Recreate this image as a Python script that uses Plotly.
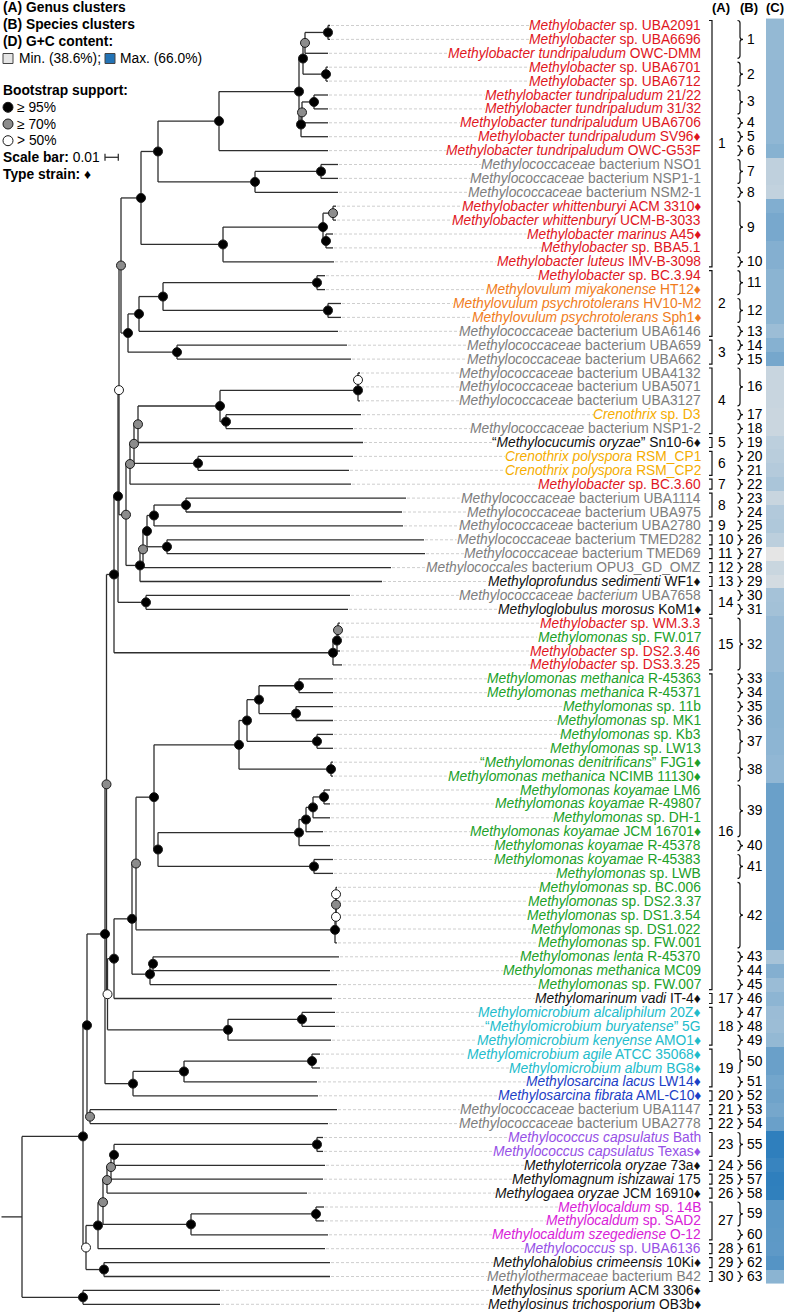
import plotly.graph_objects as go

# ------------------------------------------------------------------ data
LEAF_TAXON = [
    "Methylobacter", "Methylobacter", "Methylobacter tundripaludum", "Methylobacter", "Methylobacter",
    "Methylobacter tundripaludum", "Methylobacter tundripaludum", "Methylobacter tundripaludum",
    "Methylobacter tundripaludum", "Methylobacter tundripaludum",
    "Methylococcaceae", "Methylococcaceae", "Methylococcaceae",
    "Methylobacter whittenburyi", "Methylobacter whittenburyi", "Methylobacter marinus", "Methylobacter",
    "Methylobacter luteus", "Methylobacter", "Methylovulum miyakonense", "Methylovulum psychrotolerans",
    "Methylovulum psychrotolerans", "Methylococcaceae", "Methylococcaceae", "Methylococcaceae",
    "Methylococcaceae", "Methylococcaceae", "Methylococcaceae", "Crenothrix", "Methylococcaceae",
    "\u201cMethylocucumis oryzae\u201d", "Crenothrix polyspora", "Crenothrix polyspora", "Methylobacter",
    "Methylococcaceae", "Methylococcaceae", "Methylococcaceae", "Methylococcaceae", "Methylococcaceae",
    "Methylococcales", "Methyloprofundus sedimenti", "Methylococcaceae bacterium", "Methyloglobulus morosus",
    "Methylobacter", "Methylomonas", "Methylobacter", "Methylobacter",
    "Methylomonas methanica", "Methylomonas methanica", "Methylomonas", "Methylomonas", "Methylomonas",
    "Methylomonas", "\u201cMethylomonas denitrificans\u201d", "Methylomonas methanica",
    "Methylomonas koyamae", "Methylomonas koyamae", "Methylomonas", "Methylomonas koyamae",
    "Methylomonas koyamae", "Methylomonas koyamae", "Methylomonas", "Methylomonas", "Methylomonas",
    "Methylomonas", "Methylomonas", "Methylomonas", "Methylomonas lenta", "Methylomonas methanica",
    "Methylomonas", "Methylomarinum vadi", "Methylomicrobium alcaliphilum",
    "\u201cMethylomicrobium buryatense\u201d", "Methylomicrobium kenyense", "Methylomicrobium agile",
    "Methylomicrobium album", "Methylosarcina lacus", "Methylosarcina fibrata", "Methylococcaceae",
    "Methylococcaceae", "Methylococcus capsulatus", "Methylococcus capsulatus", "Methyloterricola oryzae",
    "Methylomagnum ishizawai", "Methylogaea oryzae", "Methylocaldum", "Methylocaldum",
    "Methylocaldum szegediense", "Methylococcus", "Methylohalobius crimeensis", "Methylothermaceae",
    "Methylosinus sporium", "Methylosinus trichosporium",
]
LEAF_STRAIN = [
    "sp. UBA2091", "sp. UBA6696", "OWC-DMM", "sp. UBA6701", "sp. UBA6712", "21/22", "31/32", "UBA6706",
    "SV96", "OWC-G53F", "bacterium NSO1", "bacterium NSP1-1", "bacterium NSM2-1", "ACM 3310",
    "UCM-B-3033", "A45", "sp. BBA5.1", "IMV-B-3098", "sp. BC.3.94", "HT12", "HV10-M2", "Sph1",
    "bacterium UBA6146", "bacterium UBA659", "bacterium UBA662", "bacterium UBA4132", "bacterium UBA5071",
    "bacterium UBA3127", "sp. D3", "bacterium NSP1-2", "Sn10-6", "RSM_CP1", "RSM_CP2", "sp. BC.3.60",
    "bacterium UBA1114", "bacterium UBA975", "bacterium UBA2780", "bacterium TMED282", "bacterium TMED69",
    "bacterium OPU3_GD_OMZ", "WF1", "UBA7658", "KoM1", "sp. WM.3.3", "sp. FW.017", "sp. DS2.3.46",
    "sp. DS3.3.25", "R-45363", "R-45371", "sp. 11b", "sp. MK1", "sp. Kb3", "sp. LW13", "FJG1",
    "NCIMB 11130", "LM6", "R-49807", "sp. DH-1", "JCM 16701", "R-45378", "R-45383", "sp. LWB",
    "sp. BC.006", "sp. DS2.3.37", "sp. DS1.3.54", "sp. DS1.022", "sp. FW.001", "R-45370", "MC09",
    "sp. FW.007", "IT-4", "20Z", "5G", "AMO1", "ATCC 35068", "BG8", "LW14", "AML-C10",
    "bacterium UBA1147", "bacterium UBA2778", "Bath", "Texas", "73a", "175", "JCM 16910", "sp. 14B",
    "sp. SAD2", "O-12", "sp. UBA6136", "10Ki", "bacterium B42", "ACM 3306", "OB3b",
]
LEAF_GROUP = (["Methylobacter"] * 10 + ["other"] * 3 + ["Methylobacter"] * 6 + ["Methylovulum"] * 3
              + ["other"] * 6 + ["Crenothrix"] + ["other"] + ["described"] + ["Crenothrix"] * 2
              + ["Methylobacter"] + ["other"] * 6 + ["described"] + ["other"] + ["described"]
              + ["Methylobacter"] + ["Methylomonas"] + ["Methylobacter"] * 2 + ["Methylomonas"] * 23
              + ["described"] + ["Methylomicrobium"] * 5 + ["Methylosarcina"] * 2 + ["other"] * 2
              + ["Methylococcus"] * 2 + ["described"] * 3 + ["Methylocaldum"] * 3 + ["Methylococcus"]
              + ["described"] + ["other"] + ["described"] * 2)
GROUP_COLOR = {
    "Methylobacter": "#e0161e", "Methylovulum": "#f07c1c", "other": "#7d7d7d",
    "Crenothrix": "#f5ad00", "described": "#111111", "Methylomonas": "#20a028",
    "Methylomicrobium": "#22bccb", "Methylosarcina": "#1c40c6", "Methylococcus": "#9650e6",
    "Methylocaldum": "#d822d8",
}
TYPE_STRAIN = [9, 14, 16, 20, 22, 31, 41, 43, 54, 55, 59, 71, 72, 74, 75, 76, 77, 78, 82, 83, 85, 90, 92, 93]

# tip depth of each leaf (tree units; SCALE_BAR_UNITS units = 0.01 substitutions/site)
LEAF_DEPTH = [
    308, 308, 306, 306, 306, 306, 306, 306, 306, 306,
    316, 316, 316, 314, 314, 311, 311, 312, 303, 303,
    319, 319, 316, 325, 329, 338, 338, 338, 339, 331,
    341, 331, 327, 329, 384, 380, 381, 402, 403, 369,
    360, 328, 326, 318, 318, 318, 320, 311, 311, 311,
    311, 311, 311, 311, 311, 308, 308, 308, 301, 308,
    311, 311, 315, 315, 315, 315, 315, 317, 308, 315,
    310, 313, 313, 309, 298, 298, 295, 296, 315, 306,
    301, 301, 303, 301, 285, 302, 302, 306, 303, 308,
    308, 198, 198,
]
# internal nodes: name, child A, child B, depth, bootstrap class (B >=95, G >=70, W >50)
NODE_NAME = ["n1_2", "n1_3", "n4_5", "n1_5", "n6_7", "n6_8", "n6_9", "n1_9", "n1_10", "n11_12",
             "n11_13", "n1_13", "n14_15", "n16_17", "n14_17", "n14_18", "n1_18", "n19_20", "n21_22",
             "n19_22", "n19_23", "n24_25", "n19_25", "n1_25", "n26_27", "n26_28", "n29_30", "n26_30",
             "n26_31", "n32_33", "n26_33", "n26_34", "n35_36", "n35_37", "n38_39", "n35_39", "n35_40",
             "n35_41", "n26_41", "n1_41", "n42_43", "n1_43", "n44_45", "n44_46", "n44_47", "n1_47",
             "n48_49", "n50_51", "n48_51", "n52_53", "n48_53", "n54_55", "n48_55", "n56_57", "n56_58",
             "n56_59", "n56_60", "n61_62", "n56_62", "n48_62", "n63_64", "n63_65", "n63_66", "n63_67",
             "n48_67", "n68_69", "n68_70", "n48_70", "n48_71", "n72_73", "n72_74", "n48_74", "n1_74",
             "n75_76", "n75_77", "n75_78", "n1_78", "n79_80", "n1_80", "n81_82", "n81_83", "n81_84",
             "n81_85", "n86_87", "n86_88", "n81_88", "n81_89", "n90_91", "n81_91", "n1_91", "n92_93",
             "root"]
NODE_A = ["L1", "n1_2", "L4", "n1_3", "L6", "n6_7", "n6_8", "n1_5", "n1_9", "L11",
          "n11_12", "n1_10", "L14", "L16", "n14_15", "n14_17", "n1_13", "L19", "L21",
          "n19_20", "n19_22", "L24", "n19_23", "n1_18", "L26", "n26_27", "L29", "n26_28",
          "n26_30", "L32", "n26_31", "n26_33", "L35", "n35_36", "L38", "n35_37", "n35_39",
          "n35_40", "n26_34", "n1_25", "L42", "n1_41", "L44", "n44_45", "n44_46", "n1_43",
          "L48", "L50", "n48_49", "L52", "n48_51", "L54", "n48_53", "L56", "n56_57",
          "n56_58", "n56_59", "L61", "n56_60", "n48_55", "L63", "n63_64", "n63_65", "n63_66",
          "n48_62", "L68", "n68_69", "n48_67", "n48_70", "L72", "n72_73", "n48_71", "n1_47",
          "L75", "n75_76", "n75_77", "n1_74", "L79", "n1_78", "L81", "n81_82", "n81_83",
          "n81_84", "L86", "n86_87", "n81_85", "n81_88", "L90", "n81_89", "n1_80", "L92",
          "n1_91"]
NODE_B = ["L2", "L3", "L5", "n4_5", "L7", "L8", "L9", "n6_9", "L10", "L12",
          "L13", "n11_13", "L15", "L17", "n16_17", "L18", "n14_18", "L20", "L22",
          "n21_22", "L23", "L25", "n24_25", "n19_25", "L27", "L28", "L30", "n29_30",
          "L31", "L33", "n32_33", "L34", "L36", "L37", "L39", "n38_39", "L40",
          "L41", "n35_41", "n26_41", "L43", "n42_43", "L45", "L46", "L47", "n44_47",
          "L49", "L51", "n50_51", "L53", "n52_53", "L55", "n54_55", "L57", "L58",
          "L59", "L60", "L62", "n61_62", "n56_62", "L64", "L65", "L66", "L67",
          "n63_67", "L69", "L70", "n68_70", "L71", "L73", "L74", "n72_74", "n48_74",
          "L76", "L77", "L78", "n75_78", "L80", "n79_80", "L82", "L83", "L84",
          "L85", "L87", "L88", "n86_88", "L89", "L91", "n90_91", "n81_91", "L93",
          "n92_93"]
NODE_DEPTH = [306, 283, 304, 281, 292, 280, 279, 277, 197, 299,
              233, 136, 311, 304, 301, 201, 119, 295, 306,
              141, 117, 155, 106, 99, 336, 336, 204, 198,
              116, 176, 112, 108, 164, 132, 145, 125, 121,
              118, 104, 97, 124, 96, 316, 315, 311, 92,
              277, 274, 237, 295, 225, 309, 217, 302, 291,
              284, 277, 292, 136, 132, 314, 314, 314, 313,
              114, 131, 128, 110, 92, 280, 206, 85.5, 84.5,
              290, 162, 111, 83, 68, 65, 295, 92, 89,
              85, 294, 169, 81, 76, 82, 64, 61, 61,
              0]
NODE_SUPPORT = ["B", "G", "B", "B", "B", "G", "B", "B", "B", "B",
                "B", "B", "G", "B", "B", "B", "B", "B", "B",
                "B", "B", "B", "B", "G", "W", "B", "B", "B",
                "G", "B", "G", "G", "B", "B", "B", "B", "G",
                "B", "G", "W", "B", "B", "G", "B", "B", "B",
                "B", "B", "B", "B", "B", "B", "B", "B", "B",
                "B", "B", "B", "B", "B", "W", "G", "W", "B",
                "G", "B", "B", "B", "B", "B", "B", "W", "G",
                "B", "B", "B", "B", "G", "B", "B", "B", "G",
                "G", "B", "B", "G", "B", "B", "W", "B", "B",
                None]
ROOT_BRANCH = 20.5
SCALE_BAR_VALUE = 0.01
SCALE_BAR_UNITS = 13.3

GENUS_FIRST = [1, 19, 24, 26, 31, 32, 34, 35, 37, 38, 39, 40, 41, 42, 44, 48, 71, 72, 75, 78, 79, 80, 81,
               83, 84, 85, 86, 89, 90, 91]
GENUS_LAST = [18, 23, 25, 30, 31, 33, 34, 36, 37, 38, 39, 40, 41, 43, 47, 70, 71, 74, 77, 78, 79, 80, 82,
              83, 84, 85, 88, 89, 90, 91]
SPECIES_FIRST = [1, 4, 6, 8, 9, 10, 11, 13, 14, 18, 19, 21, 23, 24, 25, 26, 29, 30, 31, 32, 33, 34, 35,
                 36, 37, 38, 39, 40, 41, 42, 43, 44, 48, 49, 50, 51, 52, 54, 56, 60, 61, 63, 68, 69, 70,
                 71, 72, 73, 74, 75, 77, 78, 79, 80, 81, 83, 84, 85, 86, 88, 89, 90, 91]
SPECIES_LAST = [3, 5, 7, 8, 9, 10, 12, 13, 17, 18, 20, 22, 23, 24, 25, 28, 29, 30, 31, 32, 33, 34, 35,
                36, 37, 38, 39, 40, 41, 42, 43, 47, 48, 49, 50, 51, 53, 55, 59, 60, 62, 67, 68, 69, 70,
                71, 72, 73, 74, 76, 77, 78, 79, 80, 82, 83, 84, 85, 87, 88, 89, 90, 91]
GC_CONTENT = [
    49.3, 49.3, 49.3, 49.6, 49.6, 49.6, 49.6, 49.6, 49.7, 50.5,
    44.9, 44.9, 44.6, 51.0, 51.8, 51.8, 50.8, 50.8, 50.2, 50.2,
    50.2, 50.2, 48.5, 50.6, 52.0, 44.0, 44.0, 44.0, 43.6, 43.6,
    45.2, 45.5, 46.0, 47.0, 44.0, 46.2, 46.5, 45.2, 38.6, 43.8,
    42.0, 47.6, 47.8, 49.0, 49.0, 49.0, 49.0, 50.0, 50.0, 50.2,
    50.2, 50.0, 50.0, 49.6, 49.6, 53.0, 53.0, 53.0, 53.0, 53.0,
    53.0, 53.0, 53.2, 53.2, 53.2, 53.4, 53.4, 47.4, 50.8, 48.7,
    50.0, 48.6, 48.5, 49.3, 53.0, 53.0, 52.2, 52.6, 52.0, 53.0,
    63.0, 63.0, 61.5, 63.0, 62.8, 55.5, 55.5, 55.2, 55.0, 56.5,
    50.2,
]
GC_MIN, GC_MAX = 38.6, 66.0
GC_COLORSCALE = [[0.0, "#e5e5e5"], [0.197, "#c8d5df"], [0.416, "#8db5d3"], [0.526, "#6aa0c9"],
                 [0.891, "#2f7fbd"], [1.0, "#2373b5"]]

# ------------------------------------------------------------------ layout helpers
W, H = 786, 1315
ROOT_PX = 22.0
ROW0, ROW_H = 25.5, 13.9
FONT = "Liberation Sans, Arial, sans-serif"
FS = 13.8


def X(px):
    return px - ROOT_PX


def Y(py):
    return 1 + (py - ROW0) / ROW_H


PX_ROW = 1 / ROW_H  # one pixel in row units

_lw = dict(zip("abcdefghijklmnopqrstuvwxyz",
               [556, 556, 500, 556, 556, 278, 556, 556, 222, 222, 500, 222, 833, 556, 556, 556, 556, 333,
                500, 278, 556, 500, 722, 500, 500, 500]))
_lw.update(dict(zip("ABCDEFGHIJKLMNOPQRSTUVWXYZ",
                    [667, 667, 722, 722, 667, 611, 778, 722, 278, 500, 667, 556, 833, 722, 778, 667, 778,
                     722, 667, 611, 722, 667, 944, 667, 667, 611])))
_lw.update({" ": 278, ".": 278, "-": 333, "_": 556, "/": 278, "\u201c": 333, "\u201d": 333, "\u2666": 494})


def text_width(s, size=FS):
    return sum(_lw.get(c, 556) for c in s) * size / 1000.0


fig = go.Figure()

# ------------------------------------------------------------------ tree geometry
pos = {f"L{i + 1}": (LEAF_DEPTH[i], i + 1) for i in range(len(LEAF_DEPTH))}
for name, a, b, d in zip(NODE_NAME, NODE_A, NODE_B, NODE_DEPTH):
    pos[name] = (d, (pos[a][1] + pos[b][1]) / 2)

lx, ly = [], []
for name, a, b in zip(NODE_NAME, NODE_A, NODE_B):
    d, y = pos[name]
    (da, ya), (db, yb) = pos[a], pos[b]
    lx += [d, d, None, d, da, None, d, db, None]
    ly += [ya, yb, None, ya, ya, None, yb, yb, None]
rd, ry = pos["root"]
lx += [rd - ROOT_BRANCH, rd, None]
ly += [ry, ry, None]

# dashed guide lines leaf tip -> label
LABEL_RIGHT = 703.3
dx, dy = [], []
labels_plain, labels_html, label_colors = [], [], []
for i in range(len(LEAF_TAXON)):
    tax, strain = LEAF_TAXON[i], LEAF_STRAIN[i]
    mark = "\u2666" if (i + 1) in TYPE_STRAIN else ""
    if tax.startswith("\u201c"):
        html = "\u201c<i>" + tax[1:-1] + "</i>\u201d " + strain + mark
    else:
        html = "<i>" + tax + "</i> " + strain + mark
    plain = tax + " " + strain + mark
    labels_plain.append(plain)
    labels_html.append(html)
    label_colors.append(GROUP_COLOR[LEAF_GROUP[i]])
    end = X(LABEL_RIGHT) - text_width(plain) - 2
    dx += [LEAF_DEPTH[i] + 1, end, None]
    dy += [i + 1, i + 1, None]

fig.add_trace(go.Scatter(x=dx, y=dy, mode="lines", hoverinfo="skip",
                         line=dict(color="#c8c8c8", width=0.9, dash="3px,2px")))
fig.add_trace(go.Scatter(x=lx, y=ly, mode="lines", hoverinfo="skip",
                         line=dict(color="#2e2e2e", width=1.3)))

SUPPORT_STYLE = {"B": "#000000", "G": "#8c8c8c", "W": "#ffffff"}
for key, col in SUPPORT_STYLE.items():
    xs = [pos[n][0] for n, s in zip(NODE_NAME, NODE_SUPPORT) if s == key]
    ys = [pos[n][1] for n, s in zip(NODE_NAME, NODE_SUPPORT) if s == key]
    fig.add_trace(go.Scatter(x=xs, y=ys, mode="markers", hoverinfo="skip",
                             marker=dict(size=9, color=col, line=dict(color="#1a1a1a", width=1))))

# ------------------------------------------------------------------ G+C strip
fig.add_trace(go.Heatmap(
    x=[X(766), X(784)], y=[k + 0.5 for k in range(len(GC_CONTENT) + 1)],
    z=[[g] for g in GC_CONTENT], zmin=GC_MIN, zmax=GC_MAX, colorscale=GC_COLORSCALE,
    showscale=False, hoverinfo="skip"))

shapes, annotations = [], []


def ann(x, y, text, size=FS, xanchor="left", color="#000000"):
    annotations.append(dict(x=x, y=y, text=text, showarrow=False, xanchor=xanchor, yanchor="middle",
                            font=dict(family=FONT, size=size, color=color)))


for i in range(len(LEAF_TAXON)):
    ann(X(LABEL_RIGHT), i + 1, labels_html[i], xanchor="right", color=label_colors[i])

# genus brackets
ext = 5 * PX_ROW
for k, (a, b) in enumerate(zip(GENUS_FIRST, GENUS_LAST)):
    x1, x2 = X(709), X(712)
    shapes.append(dict(type="path", xref="x", yref="y",
                       path=f"M {x1},{a - ext} L {x2},{a - ext} L {x2},{b + ext} L {x1},{b + ext}",
                       line=dict(color="#111111", width=1.2)))
    ann(X(715.5), (a + b) / 2, str(k + 1))

# species braces
for k, (a, b) in enumerate(zip(SPECIES_FIRST, SPECIES_LAST)):
    y0, y1, ym = a - ext, b + ext, (a + b) / 2
    xl, xm, xt = X(737.5), X(740), X(743)
    r = 2.5 * PX_ROW
    path = (f"M {xl},{y0} Q {xm},{y0} {xm},{y0 + r} L {xm},{ym - r} Q {xm},{ym} {xt},{ym} "
            f"Q {xm},{ym} {xm},{ym + r} L {xm},{y1 - r} Q {xm},{y1} {xl},{y1}")
    shapes.append(dict(type="path", xref="x", yref="y", path=path,
                       line=dict(color="#111111", width=1.2)))
    ann(X(745), ym, str(k + 1))

# column headers
for t, cx in [("(A)", 721), ("(B)", 749), ("(C)", 775)]:
    ann(X(cx), Y(7.5), f"<b>{t}</b>", size=13, xanchor="center")

# ------------------------------------------------------------------ legend block
ann(X(1), Y(7.5), "<b>(A) Genus clusters</b>")
ann(X(1), Y(24.3), "<b>(B) Species clusters</b>")
ann(X(1), Y(41.5), "<b>(D) G+C content:</b>")
shapes.append(dict(type="rect", xref="x", yref="y", x0=X(3), x1=X(13), y0=Y(53.5), y1=Y(63.5),
                   fillcolor="#e5e5e5", line=dict(color="#444444", width=1)))
ann(X(16.5), Y(58.5), f"Min. ({GC_MIN}%);")
shapes.append(dict(type="rect", xref="x", yref="y", x0=X(105), x1=X(115), y0=Y(53.5), y1=Y(63.5),
                   fillcolor="#2373b5", line=dict(color="#444444", width=1)))
ann(X(117.5), Y(58.5), f"Max. ({GC_MAX:.1f}%)")
ann(X(1), Y(90.7), "<b>Bootstrap support:</b>")
leg_y = [Y(107.3), Y(124.0), Y(140.7)]
fig.add_trace(go.Scatter(x=[X(8)] * 3, y=leg_y, mode="markers", hoverinfo="skip",
                         marker=dict(size=10, color=list(SUPPORT_STYLE.values()),
                                     line=dict(color="#1a1a1a", width=1))))
for yy, t in zip(leg_y, ["\u2265 95%", "\u2265 70%", "> 50%"]):
    ann(X(15), yy, t)
ann(X(1), Y(157.3), f"<b>Scale bar:</b> {SCALE_BAR_VALUE}")
sb0 = X(105)
sy = Y(157.3)
tk = 3.5 * PX_ROW
fig.add_trace(go.Scatter(x=[sb0, sb0 + SCALE_BAR_UNITS, None, sb0, sb0, None,
                            sb0 + SCALE_BAR_UNITS, sb0 + SCALE_BAR_UNITS],
                         y=[sy, sy, None, sy - tk, sy + tk, None, sy - tk, sy + tk],
                         mode="lines", hoverinfo="skip", line=dict(color="#333333", width=1.3)))
ann(X(1), Y(174), "<b>Type strain:</b> \u2666")

fig.update_layout(
    width=W, height=H, margin=dict(l=0, r=0, t=0, b=0),
    paper_bgcolor="white", plot_bgcolor="white", showlegend=False,
    shapes=shapes, annotations=annotations,
    xaxis=dict(range=[X(0), X(W)], visible=False, fixedrange=True),
    yaxis=dict(range=[Y(H), Y(0)], visible=False, fixedrange=True),
)
fig.write_html("out.html", config={"displayModeBar": False, "staticPlot": True},
               post_script="document.body.style.margin='0';")
